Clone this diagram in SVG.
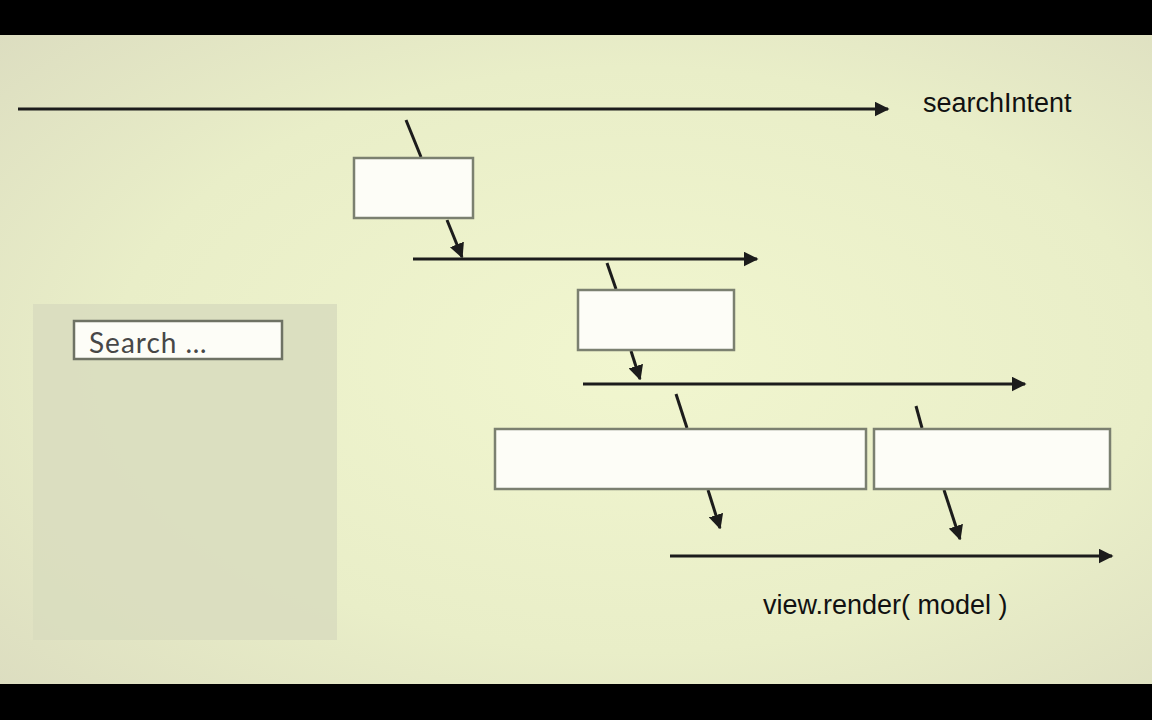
<svg xmlns="http://www.w3.org/2000/svg" width="1152" height="720" viewBox="0 0 1152 720">
<defs>
<radialGradient id="bg" cx="0.55" cy="0.5" r="0.75">
<stop offset="0" stop-color="#f1f6cf"/>
<stop offset="0.6" stop-color="#e9eec8"/>
<stop offset="1" stop-color="#dcddc0"/>
</radialGradient>
<marker id="ah" viewBox="0 0 10 10" refX="9" refY="5" markerWidth="5" markerHeight="5" markerUnits="strokeWidth" orient="auto">
<path d="M0,0 L10,5 L0,10 z" fill="#1c1c1c"/>
</marker>
</defs>
<style>
.conn{stroke:#1c1c1c;stroke-width:3;fill:none}
.box{fill:#fdfdf7;stroke:#7b8070;stroke-width:2.5}
.lbl{font-family:"Liberation Sans",Arial,sans-serif;font-size:27px;fill:#111}
</style>
<rect width="1152" height="720" fill="#000"/>
<rect x="0" y="35" width="1152" height="649" fill="url(#bg)"/>
<rect x="33" y="304" width="304" height="336" fill="#d9ddbf" opacity="0.9"/>
<g id="connectors">
<line class="conn" x1="18" y1="109" x2="888" y2="109" marker-end="url(#ah)"/>
<line class="conn" x1="406" y1="120" x2="421" y2="157"/>
<line class="conn" x1="447" y1="220" x2="462" y2="257" marker-end="url(#ah)"/>
<line class="conn" x1="413" y1="259" x2="757" y2="259" marker-end="url(#ah)"/>
<line class="conn" x1="607" y1="263" x2="616" y2="289"/>
<line class="conn" x1="631" y1="351" x2="640" y2="379" marker-end="url(#ah)"/>
<line class="conn" x1="583" y1="384" x2="1025" y2="384" marker-end="url(#ah)"/>
<line class="conn" x1="676" y1="394" x2="687" y2="428"/>
<line class="conn" x1="916" y1="406" x2="922" y2="428"/>
<line class="conn" x1="708" y1="490" x2="720" y2="528" marker-end="url(#ah)"/>
<line class="conn" x1="944" y1="490" x2="960" y2="539" marker-end="url(#ah)"/>
<line class="conn" x1="670" y1="556" x2="1112" y2="556" marker-end="url(#ah)"/>
</g>
<g id="box1"><rect class="box" x="354" y="158" width="119" height="60"/></g>
<g id="box2"><rect class="box" x="578" y="290" width="156" height="60"/></g>
<g id="box3"><rect class="box" x="495" y="429" width="371" height="60"/></g>
<g id="box4"><rect class="box" x="874" y="429" width="236" height="60"/></g>
<g id="search">
<rect x="74" y="321" width="208" height="38" fill="#fdfdf7" stroke="#6e7264" stroke-width="2.5"/>
<text x="89" y="353" font-family="Lato,'Open Sans',sans-serif" font-size="28" letter-spacing="1" fill="#474747">Search …</text>
</g>
<g id="label-searchIntent"><text class="lbl" x="923" y="112">searchIntent</text></g>
<g id="label-render"><text class="lbl" x="763" y="614">view.render( model )</text></g>
</svg>
